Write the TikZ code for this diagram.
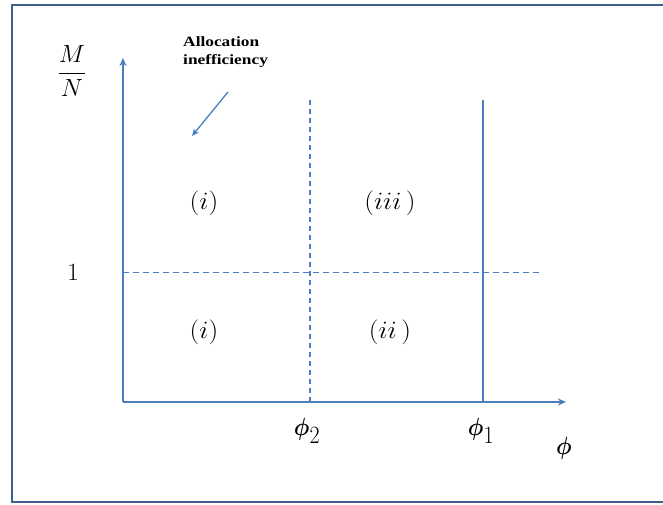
\documentclass[tikz,border=0pt]{standalone}
\usepackage{fontspec}
\usepackage{bm}
\setmainfont{Liberation Serif}
\usetikzlibrary{arrows.meta}
\definecolor{axisblue}{RGB}{74,126,190}
\definecolor{framecol}{RGB}{62,96,140}
\begin{document}
\begin{tikzpicture}[x=1pt,y=1pt,
  axisline/.style={axisblue, line width=1.4pt},
  arrowtip/.style={-{Stealth[length=8pt,width=7pt,inset=2.5pt]}},
  dashline/.style={axisblue, line width=1.2pt, dash pattern=on 6pt off 4pt},
  biglab/.style={inner sep=0pt, xscale=0.88, font=\fontsize{39}{44}\selectfont},
  reglab/.style={inner sep=0pt, xscale=1.1, font=\fontsize{23}{27}\selectfont},
  note/.style={inner sep=0pt, align=left, xscale=1.22, font=\fontsize{14.2}{18}\selectfont\bfseries}
]
\useasboundingbox (0,0) rectangle (663,505);
\draw[framecol, line width=2pt] (690,499.5) -- (11.5,499.5) -- (11.5,2.5) -- (690,2.5);

% axes
\coordinate (O) at (123,103);
\coordinate (ytop) at (123,447);
\coordinate (xend) at (566,103);
\draw[axisline, arrowtip] (O) -- (ytop);
\draw[axisline, arrowtip] (O) -- (xend);

% guide lines
\coordinate (hl) at (123,232.5);
\coordinate (hr) at (540,232.5);
\draw[dashline] (hl) -- (hr);
\coordinate (v2t) at (310,405);
\coordinate (v2b) at (310,103);
\draw[dashline, dash pattern=on 5pt off 4pt] (v2t) -- (v2b);
\coordinate (v1t) at (483,405);
\coordinate (v1b) at (483,103);
\draw[axisline] (v1t) -- (v1b);

% labels
\node[inner sep=0pt, font=\fontsize{28}{32}\selectfont] (mn) at (72,434) {$\displaystyle\frac{M}{N}$};
\node[inner sep=0pt, font=\fontsize{25}{29}\selectfont] (one) at (73,233) {$1$};
\node[biglab, anchor=base] (phi2) at (307,69) {$\bm{\phi}_2$};
\node[biglab, anchor=base] (phi1) at (481,69) {$\bm{\phi}_1$};
\node[biglab, anchor=base] (phi) at (564,50) {$\bm{\phi}$};

\node[reglab] (r1) at (204,302) {$(i)$};
\node[reglab] (r3) at (390,302) {$(iii\,)$};
\node[reglab] (r1b) at (204,173) {$(i)$};
\node[reglab] (r2) at (390,173) {$(ii\,)$};

\node[note, anchor=north west] (alloc) at (183,469) {Allocation\\inefficiency};
\coordinate (as) at (228,413);
\coordinate (ae) at (192,369);
\draw[axisblue, line width=1.3pt, -{Stealth[length=7pt,width=6pt,inset=2pt]}] (as) -- (ae);
\end{tikzpicture}
\end{document}
